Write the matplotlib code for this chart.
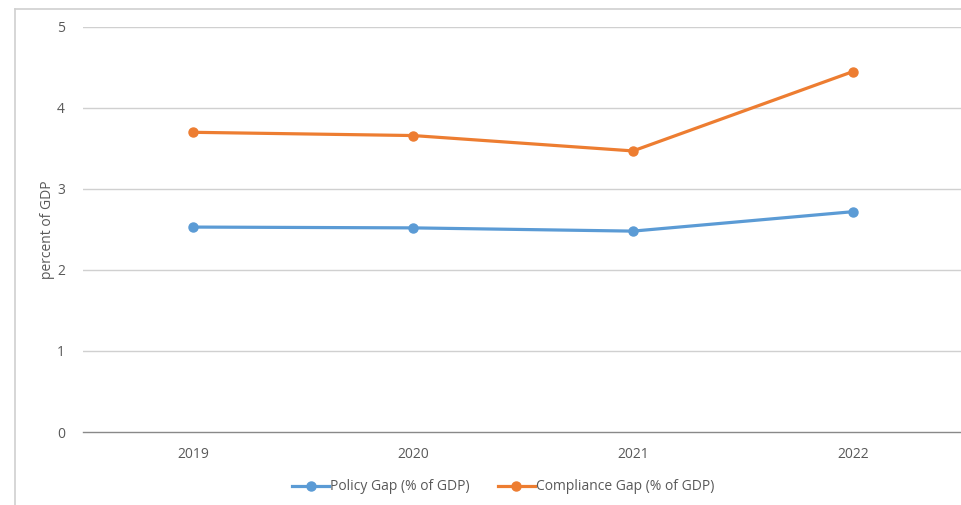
import matplotlib
matplotlib.use('Agg')
import matplotlib.pyplot as plt
from matplotlib.lines import Line2D

years = ['2019', '2020', '2021', '2022']
policy_gap = [2.53, 2.52, 2.48, 2.72]
compliance_gap = [3.70, 3.66, 3.47, 4.45]
y_ticks = [0, 1, 2, 3, 4, 5]

plt.rcParams['font.family'] = ['Open Sans', 'DejaVu Sans']
text_color = '#595959'
blue = '#5b9bd5'
orange = '#ed7d31'

fig = plt.figure(figsize=(9.62, 5.05), dpi=100)
ax = fig.add_axes([83 / 962, 1 - 432 / 505, 880 / 962, 405 / 505])

x = list(range(len(years)))
ax.plot(x, policy_gap, color=blue, linewidth=2.3, marker='o', markersize=6.5,
        label='Policy Gap (% of GDP)', zorder=3)
ax.plot(x, compliance_gap, color=orange, linewidth=2.3, marker='o', markersize=6.5,
        label='Compliance Gap (% of GDP)', zorder=3)

ax.set_xlim(-0.5, len(years) - 0.5)
ax.set_ylim(0, 5)
ax.set_xticks(x)
ax.set_xticklabels(years)
ax.set_yticks(y_ticks)

for s in ['top', 'right', 'left']:
    ax.spines[s].set_visible(False)
ax.spines['bottom'].set_color('#898989')
ax.spines['bottom'].set_linewidth(1.0)
ax.spines['bottom'].set_zorder(2)

for t in y_ticks[1:]:
    ax.axhline(t, color='#d0d0d0', linewidth=1.0, zorder=1)

ax.tick_params(axis='both', length=0, labelsize=10, colors=text_color)
ax.tick_params(axis='x', pad=11)
ax.tick_params(axis='y', pad=13)
ax.set_ylabel('percent of GDP', fontsize=10, color=text_color, labelpad=1.5)

leg = fig.legend(loc='center', bbox_to_anchor=(503 / 962, 1 - 487 / 505), ncol=2,
                 frameon=False, fontsize=10, handlelength=2.7, handletextpad=0.05,
                 columnspacing=2.0)
for t in leg.get_texts():
    t.set_color(text_color)

# outer chart-area border (left and top)
fig.add_artist(Line2D([15 / 962, 15 / 962], [0, 1 - 9 / 505], color='#d0d0d0',
                      linewidth=1.2, transform=fig.transFigure))
fig.add_artist(Line2D([15 / 962, 1], [1 - 9 / 505, 1 - 9 / 505], color='#d0d0d0',
                      linewidth=1.2, transform=fig.transFigure))

fig.savefig('out.png', dpi=100)
